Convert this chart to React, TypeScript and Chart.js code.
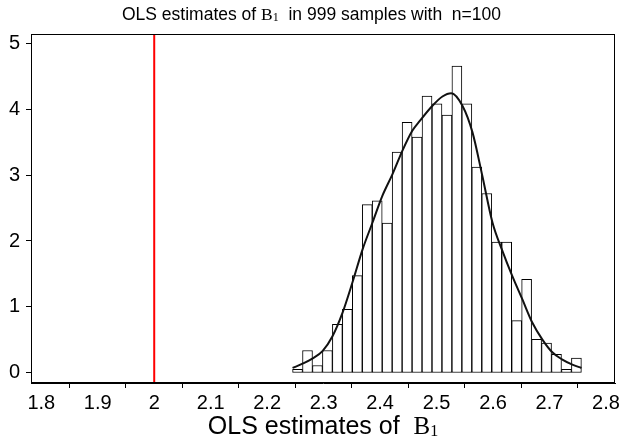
import React, { useEffect, useRef } from "react";
import { Chart, registerables } from "chart.js";

Chart.register(...registerables);

// Histogram (density) heights, 29 equal-width bins from histMin to histMax
const histMin = 2.245;
const histMax = 2.7565;
const densities = [
  0.057, 0.34, 0.113, 0.34, 0.737, 0.964, 1.475, 2.552, 2.61, 2.27, 3.346, 3.8, 3.573,
  4.197, 4.08, 3.91, 4.65, 4.08, 3.12, 2.72, 1.985, 1.985, 0.794, 1.418, 0.51, 0.454,
  0.284, 0.057, 0.227,
];

// Kernel density curve
const kdeX = [
  2.245, 2.2627, 2.28, 2.298, 2.3157, 2.3334, 2.351, 2.369, 2.3866, 2.404, 2.422, 2.4396,
  2.457, 2.4703, 2.4927, 2.5104, 2.526, 2.5458, 2.5635, 2.581, 2.599, 2.6166, 2.634,
  2.652, 2.6697, 2.6874, 2.705, 2.7228, 2.7405, 2.7565,
];
const kdeY = [
  0.076, 0.141, 0.217, 0.33, 0.556, 0.91, 1.37, 1.874, 2.28, 2.684, 3.014, 3.37, 3.67,
  3.82, 4.05, 4.19, 4.24, 4.05, 3.65, 2.99, 2.28, 1.85, 1.47, 1.114, 0.76, 0.506, 0.313,
  0.202, 0.126, 0.076,
];

const trueValue = 2;
const xTicks = [1.8, 1.9, 2.0, 2.1, 2.2, 2.3, 2.4, 2.5, 2.6, 2.7, 2.8];
const yTicks = [0, 1, 2, 3, 4, 5];
const xMin = 1.7818;
const xMax = 2.816;
const yMin = -0.152;
const yMax = 5.137;

const titleParts = ["OLS estimates of ", "B", "1", "  in 999 samples with  n=100"];
const axisTitleParts = ["OLS estimates of  ", "B", "1"];

const SANS = '"Liberation Sans", Arial, Helvetica, sans-serif';
const SERIF = '"Liberation Serif", "Times New Roman", serif';

function drawMixed(
  ctx: CanvasRenderingContext2D,
  parts: string[],
  cx: number,
  baseline: number,
  size: number,
  subSize: number,
  subDrop: number
) {
  const fonts = [
    `${size}px ${SANS}`,
    `${size}px ${SERIF}`,
    `${subSize}px ${SERIF}`,
    `${size}px ${SANS}`,
  ];
  const widths = parts.map((p, i) => {
    ctx.font = fonts[i];
    return ctx.measureText(p).width;
  });
  const total = widths.reduce((a, b) => a + b, 0);
  let x = cx - total / 2;
  ctx.fillStyle = "#000";
  ctx.textAlign = "left";
  ctx.textBaseline = "alphabetic";
  parts.forEach((p, i) => {
    ctx.font = fonts[i];
    ctx.fillText(p, x, baseline + (i === 2 ? subDrop : 0));
    x += widths[i];
  });
}

const decorPlugin = {
  id: "decor",
  afterDraw(chart: any) {
    const { ctx, chartArea } = chart;
    ctx.save();
    ctx.strokeStyle = "#000";
    ctx.lineWidth = 1;
    const l = Math.round(chartArea.left) + 0.5;
    const t = Math.round(chartArea.top) + 0.5;
    const r = Math.round(chartArea.right) - 0.5;
    const b = Math.round(chartArea.bottom) - 0.5;
    ctx.strokeRect(l, t, r - l, b - t);
    drawMixed(ctx, titleParts, chart.width / 2, 20, 17.5, 12, 1);
    drawMixed(ctx, axisTitleParts, (chartArea.left + chartArea.right) / 2, 434, 25, 16, 2);
    ctx.restore();
  },
};

export default function App() {
  const ref = useRef<HTMLCanvasElement | null>(null);
  useEffect(() => {
    if (!ref.current) return;
    const n = densities.length;
    const w = (histMax - histMin) / n;
    const barData = densities.map((d, i) => ({ x: histMin + (i + 0.5) * w, y: d }));
    const kdeData = kdeX.map((x, i) => ({ x, y: kdeY[i] }));
    const chart = new Chart(ref.current, {
      type: "bar",
      data: {
        datasets: [
          {
            type: "bar",
            data: barData as any,
            backgroundColor: "#fff",
            borderColor: "#000",
            borderWidth: 1,
            borderSkipped: false,
            barPercentage: 1,
            categoryPercentage: 1,
            grouped: false,
            order: 3,
          } as any,
          {
            type: "line",
            data: kdeData as any,
            borderColor: "#111",
            borderWidth: 2,
            pointRadius: 0,
            fill: false,
            tension: 0.4,
            cubicInterpolationMode: "monotone",
            order: 1,
          } as any,
          {
            type: "line",
            data: [
              { x: trueValue, y: yMin - 1 },
              { x: trueValue, y: yMax + 1 },
            ] as any,
            borderColor: "#ff0000",
            borderWidth: 2,
            pointRadius: 0,
            fill: false,
            order: 0,
          } as any,
        ],
      },
      options: {
        animation: false,
        responsive: true,
        maintainAspectRatio: false,
        layout: { padding: { top: 34, right: 8, left: 0, bottom: 0 } },
        plugins: { legend: { display: false }, tooltip: { enabled: false }, title: { display: false } },
        scales: {
          x: {
            type: "linear",
            min: xMin,
            max: xMax,
            offset: false,
            afterBuildTicks: (s: any) => {
              s.ticks = xTicks.map((v) => ({ value: v }));
            },
            afterFit: (s: any) => {
              s.height = 58;
            },
            ticks: {
              autoSkip: false,
              maxRotation: 0,
              padding: 3,
              color: "#000",
              font: { family: SANS, size: 20 },
              callback: (v: any) => String(Math.round(Number(v) * 10) / 10),
            },
            grid: { drawOnChartArea: false, drawTicks: true, tickLength: 5, color: "#000" },
            border: { display: true, color: "#000", width: 1 },
          },
          y: {
            type: "linear",
            min: yMin,
            max: yMax,
            afterBuildTicks: (s: any) => {
              s.ticks = yTicks.map((v) => ({ value: v }));
            },
            afterFit: (s: any) => {
              s.width = 31;
            },
            ticks: {
              autoSkip: false,
              padding: 6,
              color: "#000",
              font: { family: SANS, size: 20 },
              callback: (v: any) => String(v),
            },
            grid: { drawOnChartArea: false, drawTicks: true, tickLength: 5, color: "#000" },
            border: { display: true, color: "#000", width: 1 },
          },
        },
      } as any,
      plugins: [decorPlugin],
    });
    return () => chart.destroy();
  }, []);
  return (
    <div style={{ position: "absolute", left: 0, top: 0, width: 623, height: 441, background: "#fff" }}>
      <canvas ref={ref} />
    </div>
  );
}
